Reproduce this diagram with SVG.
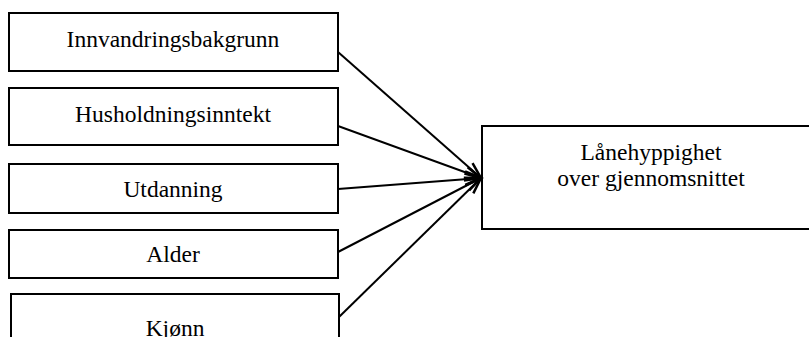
<svg xmlns="http://www.w3.org/2000/svg" width="809" height="337" viewBox="0 0 809 337">
<style>
.box{fill:#fff;stroke:#000;stroke-width:2}
.t{font-family:"Liberation Serif","Times New Roman",serif;font-size:23.5px;fill:#000;text-anchor:middle}
.c{stroke:#000;stroke-width:2;fill:none}
</style>
<defs>
<marker id="ah" markerUnits="userSpaceOnUse" markerWidth="20" markerHeight="20" refX="0" refY="0" viewBox="-14 -7 16 14" orient="auto">
<path d="M-13,-4.5 L0,0 L-13,4.5" fill="none" stroke="#000" stroke-width="2"/>
</marker>
</defs>
<rect width="809" height="337" fill="#fff"/>
<g id="n1"><rect class="box" x="9" y="13" width="329" height="58"/><text class="t" x="173" y="46.5">Innvandringsbakgrunn</text></g>
<g id="n2"><rect class="box" x="9" y="88" width="329" height="57"/><text class="t" x="173" y="121.5">Husholdningsinntekt</text></g>
<g id="n3"><rect class="box" x="9" y="164" width="329" height="49"/><text class="t" x="173" y="197">Utdanning</text></g>
<g id="n4"><rect class="box" x="9" y="230" width="329" height="48"/><text class="t" x="173" y="262">Alder</text></g>
<g id="n5"><rect class="box" x="11" y="294" width="328" height="60"/><text class="t" x="175" y="336">Kjønn</text></g>
<g id="n6"><rect class="box" x="482" y="126" width="340" height="103"/><text class="t" x="651" y="160">Lånehyppighet</text><text class="t" x="651" y="186">over gjennomsnittet</text></g>
<g id="connectors">
<line class="c" x1="338" y1="52" x2="481" y2="178" marker-end="url(#ah)"/>
<line class="c" x1="338" y1="126" x2="481" y2="178" marker-end="url(#ah)"/>
<line class="c" x1="338" y1="189" x2="481" y2="178" marker-end="url(#ah)"/>
<line class="c" x1="338" y1="252" x2="481" y2="178" marker-end="url(#ah)"/>
<line class="c" x1="339" y1="317" x2="481" y2="178" marker-end="url(#ah)"/>
</g>
</svg>
